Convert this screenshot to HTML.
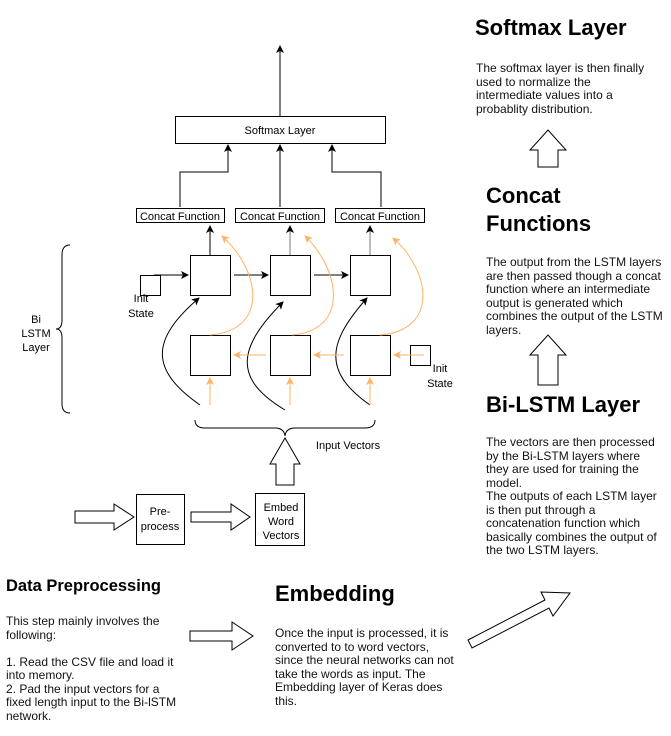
<!DOCTYPE html>
<html><head><style>
body{margin:0;width:671px;height:736px;background:#fff;font-family:"Liberation Sans",sans-serif;position:relative;overflow:hidden}
.t{position:absolute;font-size:12px;line-height:13.5px;color:#111}
.h{position:absolute;font-weight:bold;color:#000}
</style></head><body>
<svg width="671" height="736" style="position:absolute;left:0;top:0" font-family="Liberation Sans, sans-serif">
<defs>
<marker id="a" markerWidth="8" markerHeight="8" refX="7" refY="4" orient="auto" markerUnits="userSpaceOnUse"><path d="M0,0 L8,4 L0,8 L2,4z" fill="#000"/></marker>
<marker id="o" markerWidth="8" markerHeight="8" refX="7" refY="4" orient="auto" markerUnits="userSpaceOnUse"><path d="M0,0 L8,4 L0,8 L2,4z" fill="#ffb366"/></marker>
</defs>
<g fill="none" stroke="#000" stroke-width="1">
<rect x="175.5" y="116.5" width="210" height="27"/>
<line x1="280" y1="116" x2="280" y2="46" marker-end="url(#a)"/>
<path d="M180,207 V172 H228 V145" marker-end="url(#a)"/>
<line x1="280" y1="207" x2="280" y2="145" marker-end="url(#a)"/>
<path d="M381,207 V172 H332 V145" marker-end="url(#a)"/>
<rect x="136.5" y="208.5" width="88" height="14"/>
<rect x="235.5" y="208.5" width="89" height="14"/>
<rect x="335.5" y="208.5" width="89" height="14"/>
<rect x="190.5" y="255.5" width="40" height="40"/>
<rect x="270.5" y="255.5" width="40" height="40"/>
<rect x="350.5" y="255.5" width="40" height="40"/>
<rect x="190.5" y="335.5" width="40" height="40"/>
<rect x="270.5" y="335.5" width="40" height="40"/>
<rect x="350.5" y="335.5" width="40" height="40"/>
<rect x="140.5" y="275.5" width="20" height="20"/>
<rect x="410.5" y="345.5" width="20" height="20"/>
<line x1="210" y1="255" x2="210" y2="226" marker-end="url(#a)"/>
<line x1="290" y1="255" x2="290" y2="226" marker-end="url(#a)" stroke="#777"/>
<line x1="370" y1="255" x2="370" y2="226" marker-end="url(#a)" stroke="#777"/>
<line x1="154" y1="275" x2="188" y2="275" marker-end="url(#a)"/>
<line x1="234" y1="275" x2="268" y2="275" marker-end="url(#a)"/>
<line x1="314" y1="275" x2="348" y2="275" marker-end="url(#a)"/>
<path d="M200,405 C150,370 150,340 199,298" marker-end="url(#a)"/>
<path d="M285,410 C235,380 235,350 283,302" marker-end="url(#a)"/>
<path d="M370,405 C320,370 330,340 367,298" marker-end="url(#a)"/>
<path d="M70,245 Q62,245 62,255 V320 Q62,329 56,329 Q62,329 62,338 V404 Q62,413 70,413"/>
<path d="M195,420 Q195,428 205,428 H275 Q284,428 285,436 Q286,428 295,428 H365 Q375,428 375,420"/>
<path d="M276,485 V464 H270 L285,438 L300,464 H294 V485 Z"/>
<rect x="136.5" y="494.5" width="48" height="50"/>
<rect x="255.5" y="493.5" width="49" height="52"/>
<path d="M75,511 H114 V504 L134,517 L114,530 V523 H75 Z"/>
<path d="M191,512 H231 V504 L250,517 L231,530 V522 H191 Z"/>
<path d="M190,631 H232 V622 L253,636 L232,650 V641 H190 Z"/>
<path d="M538,167 V150 H530 L548,130 L566,150 H558 V167 Z"/>
<path d="M538,385 V355 H530 L548,335 L566,355 H558 V385 Z"/>
<path d="M468,640 L545,600 L541,592 L570,593 L553,616 L549,608 L472,648 Z"/>
</g>
<g fill="none" stroke="#ffb366" stroke-width="1">
<line x1="210" y1="405" x2="210" y2="378" marker-end="url(#o)"/>
<line x1="290" y1="405" x2="290" y2="378" marker-end="url(#o)"/>
<line x1="370" y1="405" x2="370" y2="378" marker-end="url(#o)"/>
<line x1="266" y1="355" x2="234" y2="355" marker-end="url(#o)"/>
<line x1="344" y1="355" x2="314" y2="355" marker-end="url(#o)"/>
<line x1="424" y1="355" x2="394" y2="355" marker-end="url(#o)"/>
<path d="M210,335 C270,330 260,270 222,236" marker-end="url(#o)"/>
<path d="M292,335 C350,330 340,270 305,236" marker-end="url(#o)"/>
<path d="M380,335 C440,330 430,270 393,238" marker-end="url(#o)"/>
</g>
<g font-size="11" fill="#000" text-anchor="middle">
<text x="280" y="134">Softmax Layer</text>
<text x="180" y="220">Concat Function</text>
<text x="280" y="220">Concat Function</text>
<text x="380" y="220">Concat Function</text>
<text x="141" y="302">Init</text><text x="141" y="317">State</text>
<text x="440" y="372">Init</text><text x="440" y="387">State</text>
<text x="36" y="323">Bi</text><text x="36" y="337">LSTM</text><text x="36" y="351">Layer</text>
<text x="348" y="449">Input Vectors</text>
<text x="160" y="515">Pre-</text><text x="160" y="530">process</text>
<text x="281" y="511">Embed</text><text x="281" y="525">Word</text><text x="281" y="539">Vectors</text>
</g>
</svg>
<div class="h" style="left:475px;top:15px;font-size:22px">Softmax Layer</div>
<div class="t" style="left:476px;top:62px;width:175px">The softmax layer is then finally<br>used to normalize the<br>intermediate values into a<br>probablity distribution.</div>
<div class="h" style="left:486px;top:182px;font-size:22px;line-height:28px">Concat<br>Functions</div>
<div class="t" style="left:486px;top:256px;width:182px">The output from the LSTM layers are then passed though a concat function where an intermediate output is generated which combines the output of the LSTM layers.</div>
<div class="h" style="left:486px;top:392px;font-size:22px">Bi-LSTM Layer</div>
<div class="t" style="left:486px;top:436px;width:180px">The vectors are then processed<br>by the Bi-LSTM layers where<br>they are used for training the<br>model.<br>The outputs of each LSTM layer<br>is then put through a<br>concatenation function which<br>basically combines the output of<br>the two LSTM layers.</div>
<div class="h" style="left:6px;top:577px;font-size:16.5px">Data Preprocessing</div>
<div class="t" style="left:6px;top:615px;width:190px">This step mainly involves the<br>following:<br><br>1. Read the CSV file and load it<br>into memory.<br>2. Pad the input vectors for a<br>fixed length input to the Bi-lSTM<br>network.</div>
<div class="h" style="left:275px;top:581px;font-size:22px">Embedding</div>
<div class="t" style="left:275px;top:627px;width:190px">Once the input is processed, it is<br>converted to to word vectors,<br>since the neural networks can not<br>take the words as input. The<br>Embedding layer of Keras does<br>this.</div>
</body></html>
